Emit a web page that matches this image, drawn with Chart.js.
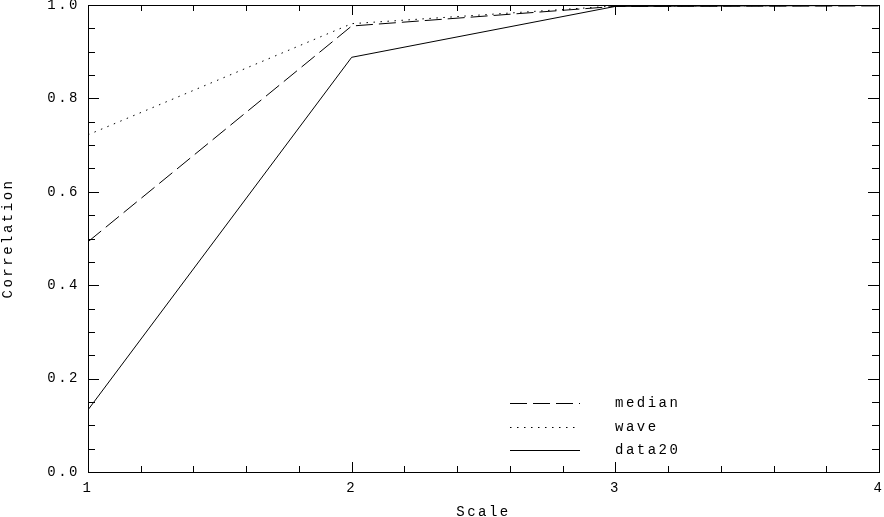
<!DOCTYPE html>
<html>
<head>
<meta charset="utf-8">
<script src="https://cdn.jsdelivr.net/npm/chart.js@4.4.1/dist/chart.umd.min.js"></script>
<style>
  html, body { margin: 0; padding: 0; background: #fff; }
  #wrap { width: 884px; height: 517px; }
</style>
</head>
<body>
<div id="wrap"><canvas id="chart" width="884" height="517"></canvas></div>
<script>
// Correlación vs escala: tres curvas (median, wave, data20), estilo PGPLOT.
const scaleValues = [1, 2, 3, 4];
const medianValues = [0.493, 0.955, 0.997, 0.998];
const waveValues = [0.722, 0.96, 0.998, 0.999];
const data20Values = [0.133, 0.888, 0.997, 0.999];

const FONT = { family: "'Liberation Mono', 'DejaVu Sans Mono', monospace", size: 14 };
const SPACING = "2.5px";
const INK = "#000";

const series = [
    { label: "median", data: medianValues, dash: [17, 6] },
    { label: "wave", data: waveValues, dash: [1.5, 5.5] },
    { label: "data20", data: data20Values, dash: [] },
];

// Letras más separadas, como la fuente de trazos del original.
const wideText = {
    id: "wideText",
    beforeUpdate(chart) { chart.ctx.letterSpacing = SPACING; },
    beforeDraw(chart) { chart.ctx.letterSpacing = SPACING; },
};

// Caja completa + marcas hacia dentro en los cuatro lados.
const frameTicks = {
    id: "frameTicks",
    afterDraw(chart) {
        const { ctx, chartArea: a, scales } = chart;
        const x = scales.x, y = scales.y;
        ctx.save();
        ctx.strokeStyle = INK;
        ctx.lineWidth = 1;
        ctx.strokeRect(a.left + 0.5, a.top + 0.5, a.right - a.left, a.bottom - a.top);
        ctx.beginPath();
        for (let i = 0; i <= 15; i++) {
            const px = Math.round(x.getPixelForValue(1 + i / 5)) + 0.5;
            const len = i % 5 === 0 ? 10 : 6;
            ctx.moveTo(px, a.bottom); ctx.lineTo(px, a.bottom - len);
            ctx.moveTo(px, a.top); ctx.lineTo(px, a.top + len);
        }
        for (let i = 0; i <= 20; i++) {
            const py = Math.round(y.getPixelForValue(i / 20)) + 0.5;
            const len = i % 4 === 0 ? 11 : 7;
            ctx.moveTo(a.left, py); ctx.lineTo(a.left + len, py);
            ctx.moveTo(a.right, py); ctx.lineTo(a.right - len, py);
        }
        ctx.stroke();
        ctx.restore();
    },
};

// Leyenda dentro del área, abajo a la derecha (muestra de línea + nombre).
const insideLegend = {
    id: "insideLegend",
    afterDraw(chart) {
        const { ctx, chartArea: a } = chart;
        const x0 = a.left + 422, x1 = a.left + 492, tx = a.left + 527;
        ctx.save();
        ctx.font = `${FONT.size}px ${FONT.family}`;
        ctx.letterSpacing = SPACING;
        ctx.fillStyle = INK;
        ctx.textBaseline = "middle";
        chart.data.datasets.forEach((ds, i) => {
            const ly = Math.round(a.bottom - 69 + i * 23.5) + 0.5;
            ctx.strokeStyle = INK;
            ctx.lineWidth = 1;
            ctx.setLineDash(ds.borderDash || []);
            ctx.beginPath();
            ctx.moveTo(x0, ly); ctx.lineTo(x1, ly);
            ctx.stroke();
            ctx.setLineDash([]);
            ctx.fillText(ds.label, tx, ly);
        });
        ctx.restore();
    },
};

new Chart(document.getElementById("chart"), {
    type: "line",
    data: {
        labels: scaleValues,
        datasets: series.map((s) => ({
            label: s.label,
            data: s.data.map((v, i) => ({ x: scaleValues[i], y: v })),
            borderColor: INK,
            borderWidth: 1,
            borderDash: s.dash,
            pointRadius: 0,
            tension: 0,
            fill: false,
        })),
    },
    options: {
        responsive: false,
        animation: false,
        devicePixelRatio: 1,
        layout: { padding: { top: 5, right: 5, left: 0, bottom: 0 } },
        plugins: {
            legend: { display: false },
            tooltip: { enabled: false },
        },
        scales: {
            x: {
                type: "linear",
                min: 1,
                max: 4,
                grid: { display: false, drawTicks: false },
                border: { display: false },
                ticks: {
                    stepSize: 1,
                    color: INK,
                    font: FONT,
                    padding: 8,
                    maxRotation: 0,
                    callback: (v) => (Number.isInteger(v) ? String(v) : ""),
                },
                title: { display: true, text: "Scale", color: INK, font: FONT, padding: { top: 0, bottom: -4 } },
                afterFit: (s) => {
                    s.height = 45;
                    s.paddingLeft = 0;
                    s.paddingRight = 0;
                },
            },
            y: {
                min: 0,
                max: 1,
                grid: { display: false, drawTicks: false },
                border: { display: false },
                ticks: {
                    stepSize: 0.2,
                    color: INK,
                    font: FONT,
                    padding: 8,
                    callback: (v) => v.toFixed(1),
                },
                title: { display: true, text: "Correlation", color: INK, font: FONT, padding: 0 },
                afterFit: (s) => {
                    s.width = 88;
                    s.paddingTop = 0;
                    s.paddingBottom = 0;
                },
            },
        },
    },
    plugins: [wideText, frameTicks, insideLegend],
});
</script>
</body>
</html>
